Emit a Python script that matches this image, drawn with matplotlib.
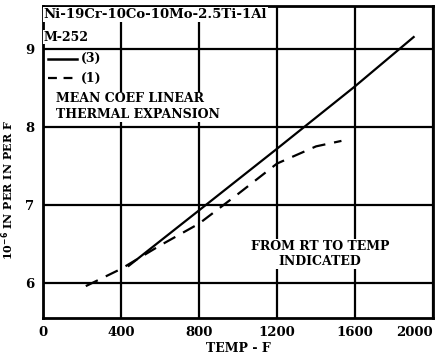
import matplotlib
matplotlib.use("Agg")
import matplotlib.pyplot as plt
from matplotlib.lines import Line2D

solid_temp = [440, 800, 1200, 1600, 1900]
solid_coef = [6.22, 6.93, 7.72, 8.52, 9.15]
dash_temp = [220, 400, 500, 600, 700, 800, 1000, 1200, 1400, 1530]
dash_coef = [5.96, 6.18, 6.33, 6.48, 6.62, 6.76, 7.14, 7.53, 7.75, 7.82]
xticks = [0, 400, 800, 1200, 1600, 2000]
yticks = [6, 7, 8, 9]

plt.rcParams['font.family'] = ['DejaVu Serif']
plt.rcParams['font.weight'] = 'bold'

fig = plt.figure(figsize=(4.42, 3.64), dpi=100)
ax = fig.add_axes([0.097, 0.126, 0.883, 0.858])
ax.set_xlim(0, 2000)
ax.set_ylim(5.55, 9.55)
ax.set_xticks(xticks)
ax.set_yticks(yticks)
ax.tick_params(length=0, labelsize=9.5, pad=6)
for lab in ax.get_xticklabels() + ax.get_yticklabels():
    lab.set_fontweight('bold')
xl = ax.get_xticklabels()
xl[-1].set_horizontalalignment('right')
ax.grid(True, color='black', linewidth=1.6)
ax.set_axisbelow(True)
for s in ax.spines.values():
    s.set_linewidth(2)

ax.plot(solid_temp, solid_coef, color='black', linewidth=1.6, zorder=3)
ax.plot(dash_temp, dash_coef, color='black', linewidth=1.6, dashes=(6, 4), zorder=3)

bb = dict(facecolor='white', edgecolor='none', pad=0.5)
ax.text(5, 9.44, "Ni-19Cr-10Co-10Mo-2.5Ti-1Al", fontsize=9.5, fontweight='bold', va='center', ha='left', bbox=bb, zorder=4)
ax.text(5, 9.15, "M-252", fontsize=9, fontweight='bold', va='center', ha='left', bbox=bb, zorder=4)

ax.add_line(Line2D([25, 175], [8.87, 8.87], color='black', linewidth=1.8, zorder=4))
ax.text(195, 8.87, "(3)", fontsize=9, fontweight='bold', va='center', ha='left', zorder=4)
ax.add_line(Line2D([25, 175], [8.62, 8.62], color='black', linewidth=1.6, dashes=(4, 3), zorder=4))
ax.text(195, 8.62, "(1)", fontsize=9, fontweight='bold', va='center', ha='left', zorder=4)

ax.text(65, 8.26, "MEAN COEF LINEAR\nTHERMAL EXPANSION", fontsize=9, fontweight='bold',
        va='center', ha='left', linespacing=1.25, bbox=bb, zorder=4)
ax.text(1420, 6.37, "FROM RT TO TEMP\nINDICATED", fontsize=9, fontweight='bold',
        va='center', ha='center', linespacing=1.2, bbox=bb, zorder=4)

ax.set_xlabel("TEMP - F", fontsize=9, fontweight='bold', labelpad=2)
ax.set_ylabel(r"10$^{-6}$ IN PER IN PER F", fontsize=8, fontweight='bold')
ax.yaxis.set_label_coords(-0.068, 0.41)

fig.savefig("out.png", dpi=100)
